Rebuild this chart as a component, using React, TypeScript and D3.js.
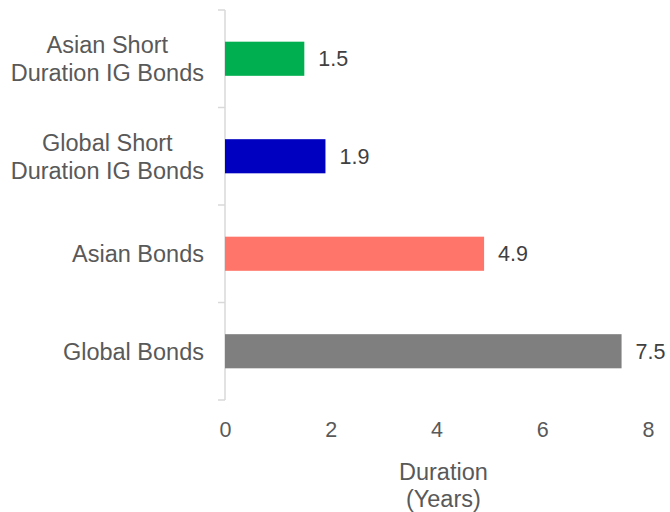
import React, { useEffect, useRef } from 'react';
import { select, scaleLinear, scaleBand, axisBottom } from 'd3';

const categories = [
  ['Asian Short', 'Duration IG Bonds'],
  ['Global Short', 'Duration IG Bonds'],
  ['Asian Bonds'],
  ['Global Bonds'],
];
const durations = [1.5, 1.9, 4.9, 7.5];
const barColors = ['#00b050', '#0000c0', '#ff7569', '#7f7f7f'];
const xTicks = [0, 2, 4, 6, 8];
const axisTitle = ['Duration', '(Years)'];

const width = 670;
const height = 512;
const margin = { top: 10, right: 22, bottom: 112, left: 225 };
const font = '"Liberation Sans", Arial, sans-serif';

const App = () => {
  const svgRef = useRef(null);

  useEffect(() => {
    document.body.style.margin = '0';
    const svg = select(svgRef.current);
    svg.selectAll('*').remove();

    const keys = categories.map((c) => c.join(' '));

    const xScale = scaleLinear()
      .domain([0, 8])
      .range([margin.left, width - margin.right]);

    const yScale = scaleBand()
      .domain(keys)
      .range([margin.top, height - margin.bottom])
      .paddingInner(0.65)
      .paddingOuter(0.325);

    // category axis: light line with outward ticks at band edges
    const bandEdges = keys.map((k) => yScale(k) - (yScale.step() * yScale.paddingInner()) / 2);
    bandEdges.push(height - margin.bottom);

    const yAxis = svg.append('g').attr('transform', `translate(${margin.left},0)`);
    yAxis
      .append('line')
      .attr('x1', 0)
      .attr('x2', 0)
      .attr('y1', margin.top)
      .attr('y2', height - margin.bottom)
      .attr('stroke', '#d9d9d9')
      .attr('stroke-width', 1.5);
    yAxis
      .selectAll('line.tick')
      .data(bandEdges)
      .join('line')
      .attr('class', 'tick')
      .attr('x1', -7)
      .attr('x2', 0)
      .attr('y1', (d) => d)
      .attr('y2', (d) => d)
      .attr('stroke', '#d9d9d9')
      .attr('stroke-width', 1.5);

    // category labels: lines centred on each other, block right-aligned
    const labelRight = margin.left - 21;
    const lh = 28;
    const labels = svg
      .append('g')
      .selectAll('text')
      .data(categories)
      .join('text')
      .attr('text-anchor', 'middle')
      .attr('fill', '#595959')
      .attr('font-family', font)
      .attr('font-size', 23.5);
    labels.each(function (lines, i) {
      const cy = yScale(keys[i]) + yScale.bandwidth() / 2;
      const t = select(this);
      const spans = lines.map((ln, j) =>
        t.append('tspan')
          .attr('y', cy + (j - (lines.length - 1) / 2) * lh)
          .attr('dy', '0.36em')
          .text(ln)
      );
      const maxW = Math.max(...spans.map((s) => s.node().getComputedTextLength()));
      spans.forEach((s) => s.attr('x', labelRight - maxW / 2));
    });

    // x axis labels only
    const xAxis = svg
      .append('g')
      .attr('transform', `translate(0,${height - margin.bottom + 37})`)
      .call(axisBottom(xScale).tickValues(xTicks).tickSize(0).tickPadding(0).tickFormat((d) => String(d)));
    xAxis.select('.domain').remove();
    xAxis
      .selectAll('text')
      .attr('fill', '#595959')
      .attr('font-family', font)
      .attr('font-size', 21.5)
      .attr('dy', 0);

    // bars
    svg
      .append('g')
      .selectAll('rect')
      .data(durations)
      .join('rect')
      .attr('x', xScale(0))
      .attr('y', (d, i) => yScale(keys[i]))
      .attr('width', (d) => xScale(d) - xScale(0))
      .attr('height', yScale.bandwidth())
      .attr('fill', (d, i) => barColors[i]);

    // value labels
    svg
      .append('g')
      .selectAll('text')
      .data(durations)
      .join('text')
      .attr('x', (d) => xScale(d) + 14)
      .attr('y', (d, i) => yScale(keys[i]) + yScale.bandwidth() / 2)
      .attr('dy', '0.36em')
      .attr('fill', '#404040')
      .attr('font-family', font)
      .attr('font-size', 21.5)
      .text((d) => d.toFixed(1));

    // axis title
    svg
      .append('text')
      .attr('text-anchor', 'middle')
      .attr('fill', '#595959')
      .attr('font-family', font)
      .attr('font-size', 23.5)
      .selectAll('tspan')
      .data(axisTitle)
      .join('tspan')
      .attr('x', xScale(4.13))
      .attr('y', (d, i) => 480 + i * 27)
      .text((d) => d);
  }, []);

  return <svg ref={svgRef} width={width} height={height} style={{ display: 'block' }} />;
};

export default App;
